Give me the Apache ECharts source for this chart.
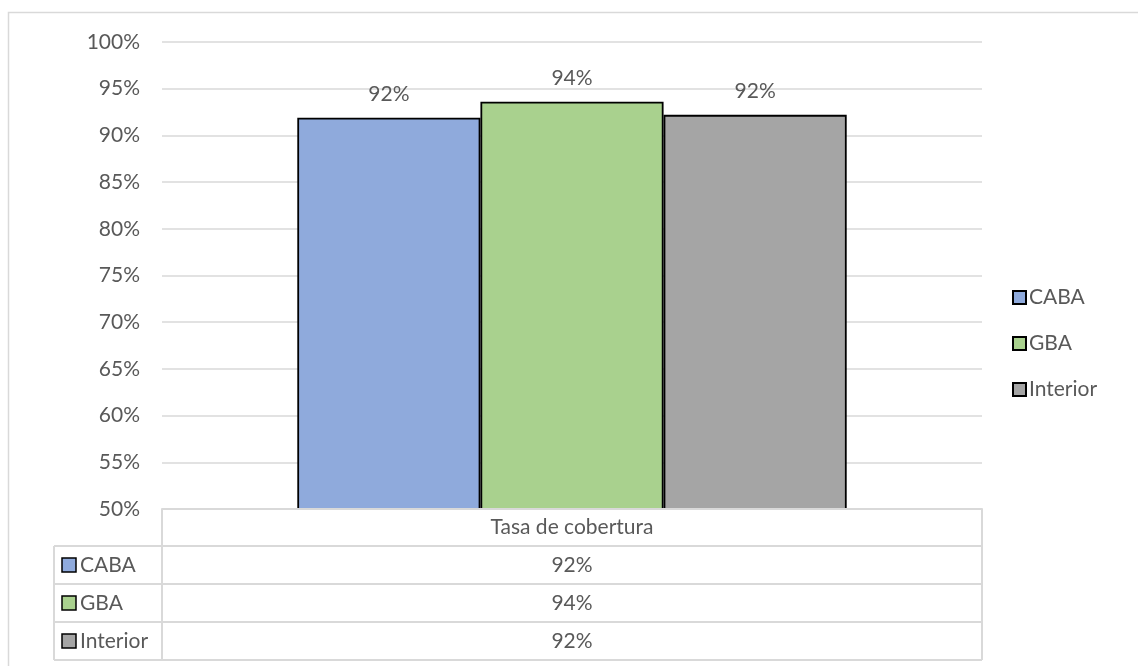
<!DOCTYPE html>
<html>
<head>
<meta charset="utf-8">
<script src="https://cdn.jsdelivr.net/npm/echarts@6/dist/echarts.min.js"></script>
<style>
html,body{margin:0;padding:0;background:#fff;}
#chart{width:1138px;height:666px;}
</style>
</head>
<body>
<div id="chart"></div>
<script>
const categories = ['Tasa de cobertura'];
const seriesNames = ['CABA', 'GBA', 'Interior'];
const seriesValues = [[91.9], [93.6], [92.2]];
const seriesColors = ['#8FAADC', '#A9D18E', '#A5A5A5'];
const yTicks = { min: 50, max: 100, interval: 5 };

const FONT = 'Lato';
const FS = 21;
const TXT = '#595959';
const LINE = '#D9D9D9';

// table layout
const tX0 = 54, tX1 = 162, tX2 = 982;
const rowY = [509, 546, 584, 622, 660];

const chart = echarts.init(document.getElementById('chart'));

const graphics = [];
// outer border
graphics.push({ type: 'rect', silent: true, shape: { x: 8.5, y: 12.5, width: 1200, height: 700 },
  style: { fill: 'none', stroke: LINE, lineWidth: 1.5 } });
function hline(x1, x2, y) {
  graphics.push({ type: 'line', silent: true, shape: { x1: x1, y1: y, x2: x2, y2: y }, style: { stroke: LINE, lineWidth: 2 }, z: 10 });
}
function vline(x, y1, y2) {
  graphics.push({ type: 'line', silent: true, shape: { x1: x, y1: y1, x2: x, y2: y2 }, style: { stroke: LINE, lineWidth: 2 }, z: 10 });
}
hline(tX1, tX2, rowY[0]);
for (let i = 1; i < rowY.length; i++) hline(tX0, tX2, rowY[i]);
vline(tX1, rowY[0], rowY[4]);
vline(tX2, rowY[0], rowY[4]);
vline(tX0, rowY[1], rowY[4]);
seriesNames.forEach((name, i) => {
  const cy = (rowY[i + 1] + rowY[i + 2]) / 2;
  graphics.push({ type: 'rect', silent: true, shape: { x: 62, y: cy - 7, width: 14, height: 14 },
    style: { fill: seriesColors[i], stroke: '#000', lineWidth: 1.5 }, z: 11 });
  graphics.push({ type: 'text', silent: true, x: 80, y: cy,
    style: { text: name, font: FS + 'px ' + FONT, fill: TXT, verticalAlign: 'middle', textAlign: 'left' }, z: 11 });
  graphics.push({ type: 'text', silent: true, x: (tX1 + tX2) / 2, y: cy,
    style: { text: Math.round(seriesValues[i][0]) + '%', font: FS + 'px ' + FONT, fill: TXT, verticalAlign: 'middle', textAlign: 'center' }, z: 11 });
});

chart.setOption({
  animation: false,
  backgroundColor: '#fff',
  textStyle: { fontFamily: FONT },
  grid: { left: 162, right: 1138 - 982, top: 42, bottom: 666 - 509, containLabel: false },
  legend: {
    orient: 'vertical', left: 1007, top: 282,
    itemWidth: 13, itemHeight: 13, itemGap: 25,
    icon: 'rect',
    textStyle: { fontSize: FS, color: TXT, fontFamily: FONT, padding: [0, 0, 0, -2] },
    data: seriesNames
  },
  xAxis: {
    type: 'category', data: categories,
    axisLine: { show: true, lineStyle: { color: LINE, width: 2 } },
    axisTick: { show: false },
    axisLabel: { color: TXT, fontSize: FS, fontFamily: FONT, margin: 8 }
  },
  yAxis: {
    type: 'value', min: yTicks.min, max: yTicks.max, interval: yTicks.interval,
    axisLine: { show: false }, axisTick: { show: false },
    splitLine: { lineStyle: { color: LINE, width: 1.5 } },
    axisLabel: { color: TXT, fontSize: FS, fontFamily: FONT, margin: 22, formatter: v => v + '%' }
  },
  series: seriesNames.map((name, i) => ({
    name: name, type: 'bar', data: seriesValues[i],
    barGap: '0%', barCategoryGap: '33%',
    itemStyle: { color: seriesColors[i], borderColor: '#000', borderWidth: 1.8 },
    label: { show: true, position: 'top', distance: 13, color: TXT, fontSize: FS, fontFamily: FONT,
      formatter: p => Math.round(p.value) + '%' }
  })),
  graphic: graphics
});
</script>
</body>
</html>
